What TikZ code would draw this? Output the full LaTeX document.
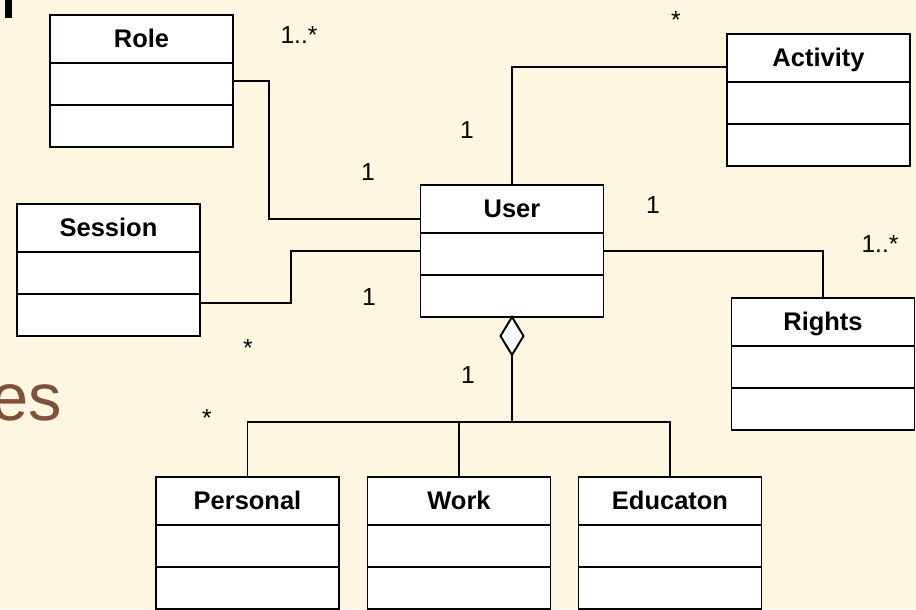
\documentclass[tikz,border=0pt]{standalone}
\usepackage{fontspec}
\setmainfont{Liberation Sans}
\usepackage{tikz}
\usetikzlibrary{shapes.geometric, positioning, calc}
\definecolor{slidebg}{RGB}{253,247,225}
\definecolor{titlebrown}{RGB}{128,80,56}
\tikzstyle{umlclass} = [rectangle, draw=black, fill=white, line width=1.1pt, minimum width=3.66cm, minimum height=2.64cm, inner sep=0pt, outer sep=0pt, path picture={\draw[line width=1.1pt] ([yshift=-0.96cm]path picture bounding box.north west) -- ([yshift=-0.96cm]path picture bounding box.north east) ([yshift=-1.8cm]path picture bounding box.north west) -- ([yshift=-1.8cm]path picture bounding box.north east);}]
\tikzstyle{classname} = [font=\bfseries\fontsize{14.5}{17}\selectfont, anchor=base, yshift=-0.64cm, inner sep=0pt]
\tikzstyle{mult} = [font=\fontsize{14}{16}\selectfont, anchor=base, inner sep=0pt]
\tikzstyle{assoc} = [line width=0.6pt]

\begin{document}
\begin{tikzpicture}[x=0.02cm, y=-0.02cm]
    \useasboundingbox (0,0) rectangle (916,609);
    \fill[slidebg] (0,0) rectangle (916,609);
    \fill (5,0) rectangle (11.5,18);
    \node (heading) [anchor=base east, text=titlebrown, font=\fontsize{38}{40}\selectfont, inner sep=0pt] at (62,420) {es};

    \node (role) [umlclass, label={[classname]north:Role}] at (141.5,81) {};
    \node (session) [umlclass, label={[classname]north:Session}] at (108.5,270) {};
    \node (user) [umlclass, label={[classname]north:User}] at (512,251) {};
    \node (activity) [umlclass, label={[classname]north:Activity}] at (818.5,100) {};
    \node (rights) [umlclass, label={[classname]north:Rights}] at (823,364) {};
    \node (personal) [umlclass, label={[classname]north:Personal}] at (247.5,543) {};
    \node (work) [umlclass, label={[classname]north:Work}] at (459,543) {};
    \node (educaton) [umlclass, label={[classname]north:Educaton}] at (670,543) {};

    \node (agg) [diamond, draw, fill=white, line width=1.1pt, minimum width=0.46cm, minimum height=0.76cm, inner sep=0pt, outer sep=0pt, anchor=north] at (user.south) {};
    \coordinate (hub) at (512,422);

    \draw [assoc] (role.east) -- ++(36,0) |- ([yshift=0.64cm]user.west);
    \draw [assoc] ([yshift=-0.66cm]session.east) -- ++(91,0) |- (user.west);
    \draw [assoc] (user.north) |- ([yshift=0.66cm]activity.west);
    \draw [assoc] (user.east) -| (rights.north);
    \draw [assoc] (agg.south) -- (hub);
    \draw [assoc] (hub) -| (personal.north);
    \draw [assoc] (hub) -| (work.north);
    \draw [assoc] (hub) -| (educaton.north);

    % multiplicities
    \node (m1) [mult] at (299,43) {1..*};
    \node (m2) [mult] at (676,28) {*};
    \node (m3) [mult] at (467,138) {1};
    \node (m4) [mult] at (368,180) {1};
    \node (m5) [mult] at (653,213) {1};
    \node (m6) [mult] at (880,252) {1..*};
    \node (m7) [mult] at (369,305) {1};
    \node (m8) [mult] at (248,356) {*};
    \node (m9) [mult] at (468,383) {1};
    \node (m10) [mult] at (207,426) {*};
\end{tikzpicture}
\end{document}
